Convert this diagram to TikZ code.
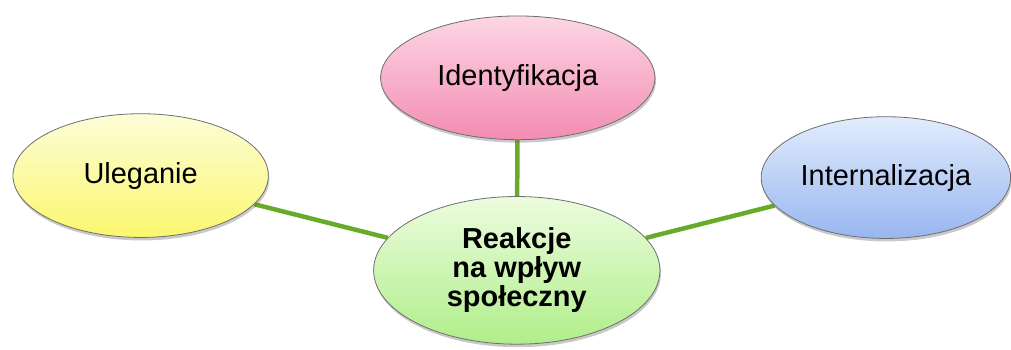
\documentclass[tikz,border=0pt]{standalone}
\usepackage{fontspec}
\setmainfont{Liberation Sans}
\usetikzlibrary{shapes.geometric,shadows}
\pgfdeclarelayer{paper}
\pgfdeclarelayer{links}
\pgfsetlayers{paper,links,main}
\definecolor{linkgreen}{HTML}{6AAA2A}
\definecolor{rimgray}{HTML}{6E6E6E}
\definecolor{pinktop}{HTML}{FCD6E4}
\definecolor{pinkbot}{HTML}{F38CB2}
\definecolor{yeltop}{HTML}{FDFDD8}
\definecolor{yelbot}{HTML}{FBF76E}
\definecolor{bluetop}{HTML}{E2ECFC}
\definecolor{bluebot}{HTML}{98B6F0}
\definecolor{greentop}{HTML}{ECFCDE}
\definecolor{greenbot}{HTML}{B0EE8A}
\tikzset{
  bubble/.style={ellipse, draw=rimgray, line width=0.8pt, inner sep=0pt,
    drop shadow={shadow xshift=1pt, shadow yshift=-3pt, opacity=0.35, fill=black!60},
    font=\fontsize{29}{29}\selectfont, align=center},
  link/.style={draw=linkgreen, line width=4.5pt},
}
\begin{document}
\begin{tikzpicture}[x=1pt,y=-1pt]
\begin{pgfonlayer}{paper}
\useasboundingbox[fill=white] (0,0) rectangle (1011,350);
\end{pgfonlayer}
\node[bubble, minimum width=275pt, minimum height=124pt,
  top color=pinktop, bottom color=pinkbot] (id) at (519,78) {Identyfikacja};
\node[bubble, minimum width=256pt, minimum height=124pt,
  top color=yeltop, bottom color=yelbot] (ul) at (141,176) {Uleganie};
\node[bubble, minimum width=250pt, minimum height=122pt,
  top color=bluetop, bottom color=bluebot] (in) at (888,178) {Internalizacja};
\node[bubble, minimum width=287pt, minimum height=148pt,
  top color=greentop, bottom color=greenbot] (c) at (518,271)
  {\bfseries Reakcje\\\bfseries na wpływ\\\bfseries społeczny};
\begin{pgfonlayer}{links}
\draw[link] (ul) -- (c);
\draw[link] (id) -- (c);
\draw[link] (in) -- (c);
\end{pgfonlayer}
\end{tikzpicture}
\end{document}
